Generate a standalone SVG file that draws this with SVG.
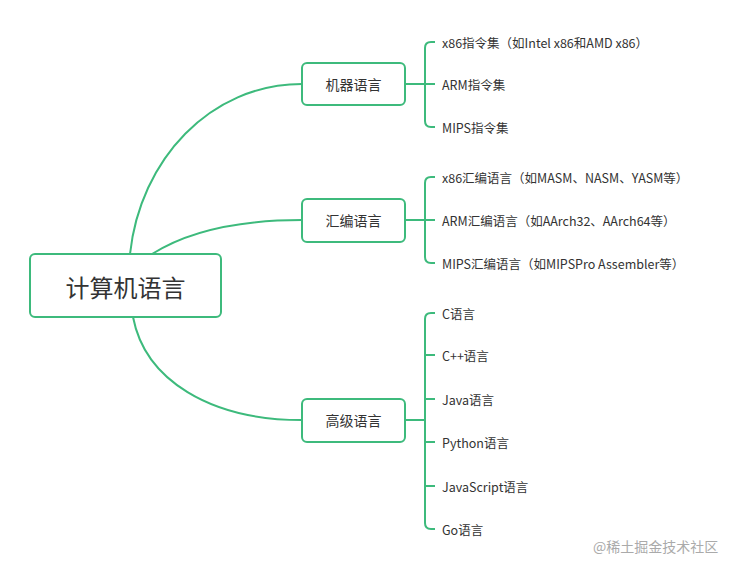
<svg xmlns="http://www.w3.org/2000/svg" width="751" height="571" viewBox="0 0 751 571">
<style>
.box{fill:#fff;stroke:#3dba7c;stroke-width:2}
.ln{fill:none;stroke:#3dba7c;stroke-width:2}
text{font-family:"Noto Sans CJK SC","Noto Sans",sans-serif;fill:#333}
.t{font-size:12.5px;dominant-baseline:central}
.m{font-size:14px;dominant-baseline:central;text-anchor:middle}
</style>
<rect width="751" height="571" fill="#fff"/>
<g id="connectors">
<path class="ln" d="M130,254 C140,160 210,84 302,84"/>
<path class="ln" d="M152,254 C190,230 240,220 302,220"/>
<path class="ln" d="M133,317 C145,380 210,420 302,420"/>
<path class="ln" d="M405,84 H425 M435,42 H431 Q425,42 425,48 V121 Q425,127 431,127 H435 M425,84 H435"/>
<path class="ln" d="M405,220 H425 M435,177 H431 Q425,177 425,183 V257 Q425,263 431,263 H435 M425,220 H435"/>
<path class="ln" d="M405,420 H425 M435,313 H431 Q425,313 425,319 V523 Q425,529 431,529 H435 M425,355 H435 M425,399 H435 M425,442 H435 M425,486 H435"/>
</g>
<g id="root"><rect class="box" x="30" y="254" width="191" height="63" rx="5"/><text x="125.5" y="286" text-anchor="middle" dominant-baseline="central" font-size="24">计算机语言</text></g>
<g id="n1"><rect class="box" x="302" y="63" width="103" height="42" rx="5"/><text class="m" x="353.5" y="84">机器语言</text></g>
<g id="n2"><rect class="box" x="302" y="199" width="103" height="43" rx="5"/><text class="m" x="353.5" y="220">汇编语言</text></g>
<g id="n3"><rect class="box" x="302" y="399" width="103" height="43" rx="5"/><text class="m" x="353.5" y="420">高级语言</text></g>
<g id="leaves">
<text class="t" x="442" y="42">x86指令集（如Intel x86和AMD x86）</text>
<text class="t" x="442" y="84">ARM指令集</text>
<text class="t" x="442" y="127">MIPS指令集</text>
<text class="t" x="442" y="177">x86汇编语言（如MASM、NASM、YASM等）</text>
<text class="t" x="442" y="220">ARM汇编语言（如AArch32、AArch64等）</text>
<text class="t" x="442" y="263">MIPS汇编语言（如MIPSPro Assembler等）</text>
<text class="t" x="442" y="313">C语言</text>
<text class="t" x="442" y="355">C++语言</text>
<text class="t" x="442" y="399">Java语言</text>
<text class="t" x="442" y="442">Python语言</text>
<text class="t" x="442" y="486">JavaScript语言</text>
<text class="t" x="442" y="529">Go语言</text>
</g>
<text x="593" y="546" font-size="14" dominant-baseline="central" style="fill:#aaa">@稀土掘金技术社区</text>
</svg>
